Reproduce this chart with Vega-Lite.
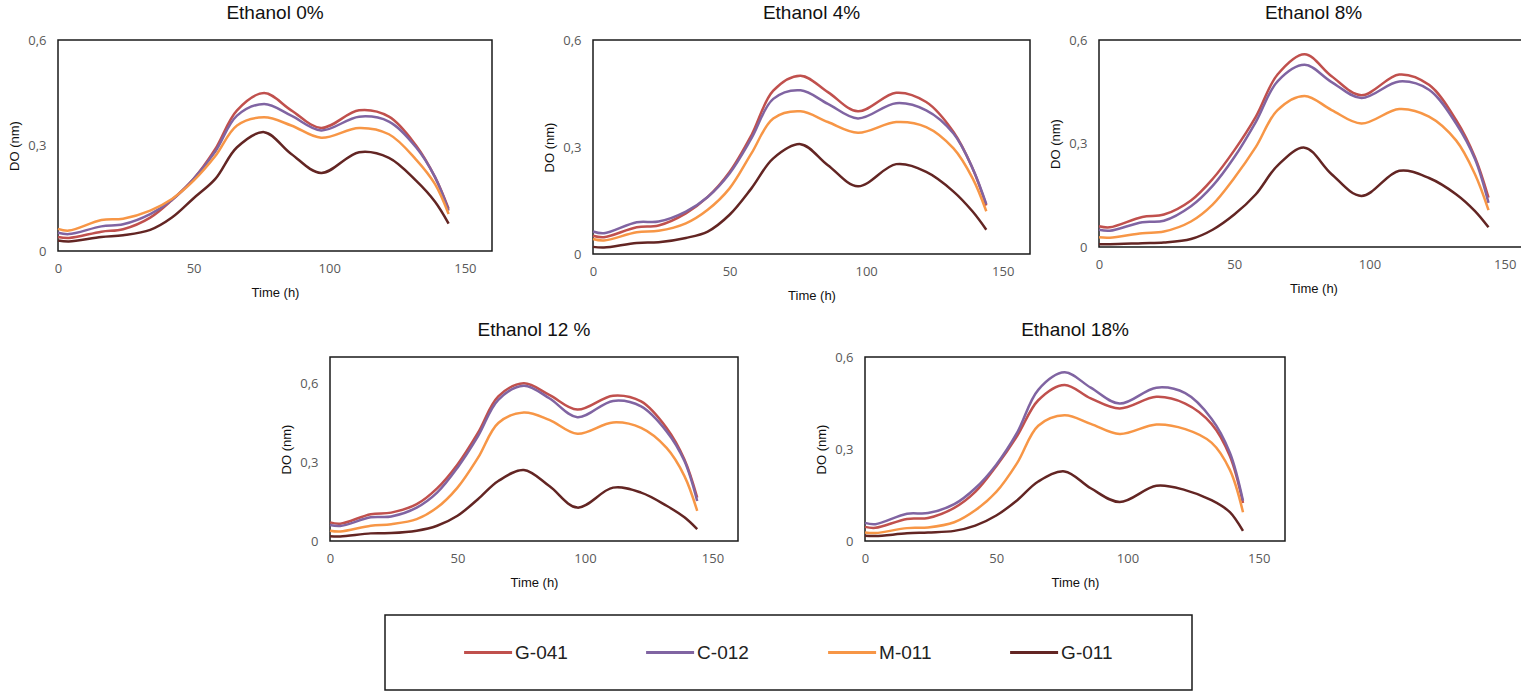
{
  "$schema": "https://vega.github.io/schema/vega-lite/v6.json",
  "padding": {"left": 8, "top": 3, "right": 0, "bottom": 0},
  "background": "white",
  "config": {
    "font": "Liberation Sans",
    "view": {"stroke": "#1a1a1a", "strokeWidth": 1.5},
    "title": {"font": "Liberation Sans", "fontSize": 19, "fontWeight": "normal", "color": "#111", "offset": 11, "anchor": "middle"},
    "axis": {"grid": false, "ticks": false, "domain": false, "labelFont": "Open Sans", "labelFontSize": 13, "labelColor": "#595959", "titleFont": "Liberation Sans", "titleFontSize": 13, "titleFontWeight": "normal", "titleColor": "#111"},
    "axisX": {"labelPadding": 11, "titlePadding": 11, "labelFlush": false},
    "axisY": {"labelPadding": 12, "titlePadding": 6},
    "line": {"interpolate": "catmull-rom", "strokeWidth": 2.5},
    "legend": {"disable": true}
  },
  "datasets": {
    "curves": [
      {"panel": "0%", "t": 0, "G-041": 0.040, "C-012": 0.052, "M-011": 0.063, "G-011": 0.030},
      {"panel": "0%", "t": 4, "G-041": 0.037, "C-012": 0.048, "M-011": 0.058, "G-011": 0.027},
      {"panel": "0%", "t": 16, "G-041": 0.055, "C-012": 0.070, "M-011": 0.088, "G-011": 0.040},
      {"panel": "0%", "t": 24, "G-041": 0.062, "C-012": 0.076, "M-011": 0.092, "G-011": 0.045},
      {"panel": "0%", "t": 34, "G-041": 0.095, "C-012": 0.105, "M-011": 0.115, "G-011": 0.060},
      {"panel": "0%", "t": 42, "G-041": 0.145, "C-012": 0.145, "M-011": 0.148, "G-011": 0.095},
      {"panel": "0%", "t": 50, "G-041": 0.205, "C-012": 0.205, "M-011": 0.200, "G-011": 0.150},
      {"panel": "0%", "t": 58, "G-041": 0.290, "C-012": 0.283, "M-011": 0.270, "G-011": 0.205},
      {"panel": "0%", "t": 66, "G-041": 0.400, "C-012": 0.385, "M-011": 0.357, "G-011": 0.295},
      {"panel": "0%", "t": 76, "G-041": 0.449, "C-012": 0.418, "M-011": 0.380, "G-011": 0.338},
      {"panel": "0%", "t": 86, "G-041": 0.400, "C-012": 0.385, "M-011": 0.357, "G-011": 0.276},
      {"panel": "0%", "t": 97, "G-041": 0.350, "C-012": 0.343, "M-011": 0.322, "G-011": 0.222},
      {"panel": "0%", "t": 111, "G-041": 0.400, "C-012": 0.382, "M-011": 0.350, "G-011": 0.281},
      {"panel": "0%", "t": 122, "G-041": 0.382, "C-012": 0.368, "M-011": 0.332, "G-011": 0.265},
      {"panel": "0%", "t": 132, "G-041": 0.300, "C-012": 0.295, "M-011": 0.260, "G-011": 0.200},
      {"panel": "0%", "t": 139, "G-041": 0.210, "C-012": 0.210, "M-011": 0.190, "G-011": 0.140},
      {"panel": "0%", "t": 144, "G-041": 0.120, "C-012": 0.115, "M-011": 0.105, "G-011": 0.078},

      {"panel": "4%", "t": 0, "G-041": 0.051, "C-012": 0.063, "M-011": 0.042, "G-011": 0.020},
      {"panel": "4%", "t": 4, "G-041": 0.047, "C-012": 0.058, "M-011": 0.038, "G-011": 0.018},
      {"panel": "4%", "t": 16, "G-041": 0.075, "C-012": 0.089, "M-011": 0.061, "G-011": 0.031},
      {"panel": "4%", "t": 24, "G-041": 0.080, "C-012": 0.091, "M-011": 0.065, "G-011": 0.033},
      {"panel": "4%", "t": 34, "G-041": 0.114, "C-012": 0.119, "M-011": 0.086, "G-011": 0.045},
      {"panel": "4%", "t": 42, "G-041": 0.160, "C-012": 0.160, "M-011": 0.124, "G-011": 0.063},
      {"panel": "4%", "t": 50, "G-041": 0.230, "C-012": 0.226, "M-011": 0.184, "G-011": 0.110},
      {"panel": "4%", "t": 58, "G-041": 0.333, "C-012": 0.324, "M-011": 0.282, "G-011": 0.184},
      {"panel": "4%", "t": 66, "G-041": 0.458, "C-012": 0.435, "M-011": 0.380, "G-011": 0.268},
      {"panel": "4%", "t": 76, "G-041": 0.500, "C-012": 0.459, "M-011": 0.400, "G-011": 0.308},
      {"panel": "4%", "t": 86, "G-041": 0.454, "C-012": 0.421, "M-011": 0.370, "G-011": 0.249},
      {"panel": "4%", "t": 97, "G-041": 0.400, "C-012": 0.380, "M-011": 0.340, "G-011": 0.190},
      {"panel": "4%", "t": 111, "G-041": 0.452, "C-012": 0.423, "M-011": 0.370, "G-011": 0.252},
      {"panel": "4%", "t": 122, "G-041": 0.426, "C-012": 0.403, "M-011": 0.356, "G-011": 0.230},
      {"panel": "4%", "t": 132, "G-041": 0.342, "C-012": 0.338, "M-011": 0.296, "G-011": 0.175},
      {"panel": "4%", "t": 139, "G-041": 0.240, "C-012": 0.240, "M-011": 0.212, "G-011": 0.119},
      {"panel": "4%", "t": 144, "G-041": 0.136, "C-012": 0.140, "M-011": 0.120, "G-011": 0.068},

      {"panel": "8%", "t": 0, "G-041": 0.060, "C-012": 0.050, "M-011": 0.028, "G-011": 0.008},
      {"panel": "8%", "t": 4, "G-041": 0.057, "C-012": 0.047, "M-011": 0.027, "G-011": 0.008},
      {"panel": "8%", "t": 16, "G-041": 0.087, "C-012": 0.072, "M-011": 0.040, "G-011": 0.011},
      {"panel": "8%", "t": 24, "G-041": 0.094, "C-012": 0.076, "M-011": 0.045, "G-011": 0.013},
      {"panel": "8%", "t": 34, "G-041": 0.135, "C-012": 0.118, "M-011": 0.074, "G-011": 0.023},
      {"panel": "8%", "t": 42, "G-041": 0.197, "C-012": 0.177, "M-011": 0.123, "G-011": 0.050},
      {"panel": "8%", "t": 50, "G-041": 0.280, "C-012": 0.260, "M-011": 0.200, "G-011": 0.094},
      {"panel": "8%", "t": 58, "G-041": 0.378, "C-012": 0.363, "M-011": 0.290, "G-011": 0.153},
      {"panel": "8%", "t": 66, "G-041": 0.500, "C-012": 0.480, "M-011": 0.397, "G-011": 0.236},
      {"panel": "8%", "t": 76, "G-041": 0.559, "C-012": 0.528, "M-011": 0.438, "G-011": 0.288},
      {"panel": "8%", "t": 86, "G-041": 0.495, "C-012": 0.478, "M-011": 0.397, "G-011": 0.211},
      {"panel": "8%", "t": 97, "G-041": 0.440, "C-012": 0.432, "M-011": 0.358, "G-011": 0.148},
      {"panel": "8%", "t": 111, "G-041": 0.500, "C-012": 0.480, "M-011": 0.400, "G-011": 0.221},
      {"panel": "8%", "t": 122, "G-041": 0.470, "C-012": 0.456, "M-011": 0.378, "G-011": 0.200},
      {"panel": "8%", "t": 132, "G-041": 0.368, "C-012": 0.358, "M-011": 0.309, "G-011": 0.153},
      {"panel": "8%", "t": 139, "G-041": 0.260, "C-012": 0.255, "M-011": 0.211, "G-011": 0.104},
      {"panel": "8%", "t": 144, "G-041": 0.143, "C-012": 0.128, "M-011": 0.107, "G-011": 0.057},

      {"panel": "12%", "t": 0, "G-041": 0.071, "C-012": 0.061, "M-011": 0.039, "G-011": 0.018},
      {"panel": "12%", "t": 4, "G-041": 0.066, "C-012": 0.057, "M-011": 0.036, "G-011": 0.017},
      {"panel": "12%", "t": 16, "G-041": 0.102, "C-012": 0.090, "M-011": 0.058, "G-011": 0.029},
      {"panel": "12%", "t": 24, "G-041": 0.108, "C-012": 0.093, "M-011": 0.064, "G-011": 0.030},
      {"panel": "12%", "t": 34, "G-041": 0.140, "C-012": 0.127, "M-011": 0.083, "G-011": 0.039},
      {"panel": "12%", "t": 42, "G-041": 0.200, "C-012": 0.184, "M-011": 0.127, "G-011": 0.058},
      {"panel": "12%", "t": 50, "G-041": 0.291, "C-012": 0.279, "M-011": 0.203, "G-011": 0.096},
      {"panel": "12%", "t": 58, "G-041": 0.411, "C-012": 0.398, "M-011": 0.316, "G-011": 0.159},
      {"panel": "12%", "t": 66, "G-041": 0.550, "C-012": 0.537, "M-011": 0.449, "G-011": 0.228},
      {"panel": "12%", "t": 76, "G-041": 0.600, "C-012": 0.591, "M-011": 0.489, "G-011": 0.270},
      {"panel": "12%", "t": 86, "G-041": 0.556, "C-012": 0.543, "M-011": 0.461, "G-011": 0.209},
      {"panel": "12%", "t": 97, "G-041": 0.500, "C-012": 0.471, "M-011": 0.408, "G-011": 0.127},
      {"panel": "12%", "t": 111, "G-041": 0.553, "C-012": 0.533, "M-011": 0.451, "G-011": 0.203},
      {"panel": "12%", "t": 122, "G-041": 0.531, "C-012": 0.512, "M-011": 0.430, "G-011": 0.184},
      {"panel": "12%", "t": 132, "G-041": 0.430, "C-012": 0.417, "M-011": 0.354, "G-011": 0.134},
      {"panel": "12%", "t": 139, "G-041": 0.310, "C-012": 0.304, "M-011": 0.247, "G-011": 0.090},
      {"panel": "12%", "t": 144, "G-041": 0.165, "C-012": 0.152, "M-011": 0.115, "G-011": 0.045},

      {"panel": "18%", "t": 0, "G-041": 0.046, "C-012": 0.059, "M-011": 0.028, "G-011": 0.017},
      {"panel": "18%", "t": 4, "G-041": 0.043, "C-012": 0.055, "M-011": 0.026, "G-011": 0.016},
      {"panel": "18%", "t": 16, "G-041": 0.072, "C-012": 0.089, "M-011": 0.042, "G-011": 0.025},
      {"panel": "18%", "t": 24, "G-041": 0.075, "C-012": 0.091, "M-011": 0.044, "G-011": 0.028},
      {"panel": "18%", "t": 34, "G-041": 0.108, "C-012": 0.120, "M-011": 0.061, "G-011": 0.033},
      {"panel": "18%", "t": 42, "G-041": 0.160, "C-012": 0.172, "M-011": 0.100, "G-011": 0.050},
      {"panel": "18%", "t": 50, "G-041": 0.244, "C-012": 0.249, "M-011": 0.160, "G-011": 0.083},
      {"panel": "18%", "t": 58, "G-041": 0.343, "C-012": 0.354, "M-011": 0.255, "G-011": 0.133},
      {"panel": "18%", "t": 66, "G-041": 0.459, "C-012": 0.493, "M-011": 0.376, "G-011": 0.194},
      {"panel": "18%", "t": 76, "G-041": 0.509, "C-012": 0.550, "M-011": 0.410, "G-011": 0.227},
      {"panel": "18%", "t": 86, "G-041": 0.465, "C-012": 0.500, "M-011": 0.382, "G-011": 0.172},
      {"panel": "18%", "t": 97, "G-041": 0.432, "C-012": 0.448, "M-011": 0.349, "G-011": 0.127},
      {"panel": "18%", "t": 111, "G-041": 0.470, "C-012": 0.500, "M-011": 0.380, "G-011": 0.180},
      {"panel": "18%", "t": 122, "G-041": 0.448, "C-012": 0.482, "M-011": 0.365, "G-011": 0.166},
      {"panel": "18%", "t": 132, "G-041": 0.382, "C-012": 0.399, "M-011": 0.321, "G-011": 0.133},
      {"panel": "18%", "t": 139, "G-041": 0.277, "C-012": 0.288, "M-011": 0.232, "G-011": 0.094},
      {"panel": "18%", "t": 144, "G-041": 0.124, "C-012": 0.131, "M-011": 0.094, "G-011": 0.033}
    ],
    "series": [
      {"series": "G-041"}, {"series": "C-012"}, {"series": "M-011"}, {"series": "G-011"}
    ]
  },
  "vconcat": [
    {
      "vconcat": [
        {
          "hconcat": [
            {
              "title": "Ethanol 0%",
              "width": 434, "height": 211,
              "data": {"name": "curves"},
              "transform": [{"filter": "datum.panel == '0%'"}, {"fold": ["G-041", "C-012", "M-011", "G-011"], "as": ["series", "DO"]}],
              "mark": {"type": "line"},
              "encoding": {
                "x": {"field": "t", "type": "quantitative", "scale": {"domain": [0, 160], "nice": false}, "axis": {"title": "Time  (h)", "values": [0, 50, 100, 150]}},
                "y": {"field": "DO", "type": "quantitative", "scale": {"domain": [0, 0.6], "nice": false}, "axis": {"title": "DO (nm)", "values": [0, 0.3, 0.6], "format": "~g", "labelExpr": "replace(datum.label, '.', ',')"}},
                "color": {"field": "series", "type": "nominal", "scale": {"domain": ["G-041", "C-012", "M-011", "G-011"], "range": ["#c0504d", "#8064a2", "#f79646", "#632523"]}, "legend": null}
              }
            },
            {
              "hconcat": [
                {
                  "title": "Ethanol 4%",
                  "width": 437, "height": 214,
                  "data": {"name": "curves"},
                  "transform": [{"filter": "datum.panel == '4%'"}, {"fold": ["G-041", "C-012", "M-011", "G-011"], "as": ["series", "DO"]}],
                  "mark": {"type": "line"},
                  "encoding": {
                    "x": {"field": "t", "type": "quantitative", "scale": {"domain": [0, 160], "nice": false}, "axis": {"title": "Time  (h)", "values": [0, 50, 100, 150]}},
                    "y": {"field": "DO", "type": "quantitative", "scale": {"domain": [0, 0.6], "nice": false}, "axis": {"title": "DO (nm)", "values": [0, 0.3, 0.6], "format": "~g", "labelExpr": "replace(datum.label, '.', ',')"}},
                    "color": {"field": "series", "type": "nominal", "scale": {"domain": ["G-041", "C-012", "M-011", "G-011"], "range": ["#c0504d", "#8064a2", "#f79646", "#632523"]}, "legend": null}
                  }
                },
                {
                  "title": "Ethanol 8%",
                  "width": 429, "height": 207,
                  "data": {"name": "curves"},
                  "transform": [{"filter": "datum.panel == '8%'"}, {"fold": ["G-041", "C-012", "M-011", "G-011"], "as": ["series", "DO"]}],
                  "mark": {"type": "line"},
                  "encoding": {
                    "x": {"field": "t", "type": "quantitative", "scale": {"domain": [0, 158.6], "nice": false}, "axis": {"title": "Time  (h)", "values": [0, 50, 100, 150]}},
                    "y": {"field": "DO", "type": "quantitative", "scale": {"domain": [0, 0.6], "nice": false}, "axis": {"title": "DO (nm)", "values": [0, 0.3, 0.6], "format": "~g", "labelExpr": "replace(datum.label, '.', ',')"}},
                    "color": {"field": "series", "type": "nominal", "scale": {"domain": ["G-041", "C-012", "M-011", "G-011"], "range": ["#c0504d", "#8064a2", "#f79646", "#632523"]}, "legend": null}
                  }
                }
              ],
              "spacing": 18,
              "resolve": {"scale": {"x": "independent", "y": "independent"}}
            }
          ],
          "spacing": 50,
          "resolve": {"scale": {"x": "independent", "y": "independent"}}
        },
        {
          "hconcat": [
            {
              "width": 222, "height": 1,
              "data": {"name": "series"},
              "mark": {"type": "point", "opacity": 0},
              "encoding": {},
              "view": {"stroke": null, "fill": "white"}
            },
            {
              "hconcat": [
                {
                  "title": {"text": "Ethanol 12 %", "offset": 17},
                  "width": 408, "height": 184,
                  "data": {"name": "curves"},
                  "transform": [{"filter": "datum.panel == '12%'"}, {"fold": ["G-041", "C-012", "M-011", "G-011"], "as": ["series", "DO"]}],
                  "mark": {"type": "line"},
                  "encoding": {
                    "x": {"field": "t", "type": "quantitative", "scale": {"domain": [0, 160], "nice": false}, "axis": {"title": "Time  (h)", "values": [0, 50, 100, 150]}},
                    "y": {"field": "DO", "type": "quantitative", "scale": {"domain": [0, 0.7], "nice": false}, "axis": {"title": "DO (nm)", "values": [0, 0.3, 0.6], "format": "~g", "labelExpr": "replace(datum.label, '.', ',')"}},
                    "color": {"field": "series", "type": "nominal", "scale": {"domain": ["G-041", "C-012", "M-011", "G-011"], "range": ["#c0504d", "#8064a2", "#f79646", "#632523"]}, "legend": null}
                  }
                },
                {
                  "title": "Ethanol 18%",
                  "width": 420, "height": 184,
                  "data": {"name": "curves"},
                  "transform": [{"filter": "datum.panel == '18%'"}, {"fold": ["G-041", "C-012", "M-011", "G-011"], "as": ["series", "DO"]}],
                  "mark": {"type": "line"},
                  "encoding": {
                    "x": {"field": "t", "type": "quantitative", "scale": {"domain": [0, 160], "nice": false}, "axis": {"title": "Time  (h)", "values": [0, 50, 100, 150]}},
                    "y": {"field": "DO", "type": "quantitative", "scale": {"domain": [0, 0.6], "nice": false}, "axis": {"title": "DO (nm)", "values": [0, 0.3, 0.6], "format": "~g", "labelExpr": "replace(datum.label, '.', ',')"}},
                    "color": {"field": "series", "type": "nominal", "scale": {"domain": ["G-041", "C-012", "M-011", "G-011"], "range": ["#c0504d", "#8064a2", "#f79646", "#632523"]}, "legend": null}
                  }
                }
              ],
              "spacing": 76,
              "resolve": {"scale": {"x": "independent", "y": "independent"}}
            }
          ],
          "spacing": 0,
          "resolve": {"scale": {"x": "independent", "y": "independent"}}
        }
      ],
      "spacing": 17,
      "resolve": {"scale": {"x": "independent", "y": "independent"}}
    },
    {
      "hconcat": [
        {
          "width": 326, "height": 1,
          "data": {"name": "series"},
          "mark": {"type": "point", "opacity": 0},
          "encoding": {},
          "view": {"stroke": null, "fill": "white"}
        },
        {
          "width": 807, "height": 75,
          "data": {"name": "series"},
          "encoding": {
            "x": {"field": "series", "type": "nominal", "sort": null, "scale": {"type": "point", "domain": ["G-041", "C-012", "M-011", "G-011"], "padding": 0.717, "align": 0.395}, "axis": null}
          },
          "layer": [
            {
              "mark": {"type": "point", "shape": "stroke", "size": 2304, "strokeWidth": 3, "filled": false, "opacity": 1},
              "encoding": {
                "color": {"field": "series", "type": "nominal", "scale": {"domain": ["G-041", "C-012", "M-011", "G-011"], "range": ["#c0504d", "#8064a2", "#f79646", "#632523"]}, "legend": null}
              }
            },
            {
              "mark": {"type": "text", "align": "left", "baseline": "middle", "dx": 27, "fontSize": 19, "font": "Liberation Sans", "color": "#222"},
              "encoding": {"text": {"field": "series"}}
            }
          ]
        }
      ],
      "spacing": 0,
      "resolve": {"scale": {"x": "independent", "y": "independent"}}
    }
  ],
  "spacing": 22,
  "resolve": {"scale": {"x": "independent", "y": "independent"}}
}
